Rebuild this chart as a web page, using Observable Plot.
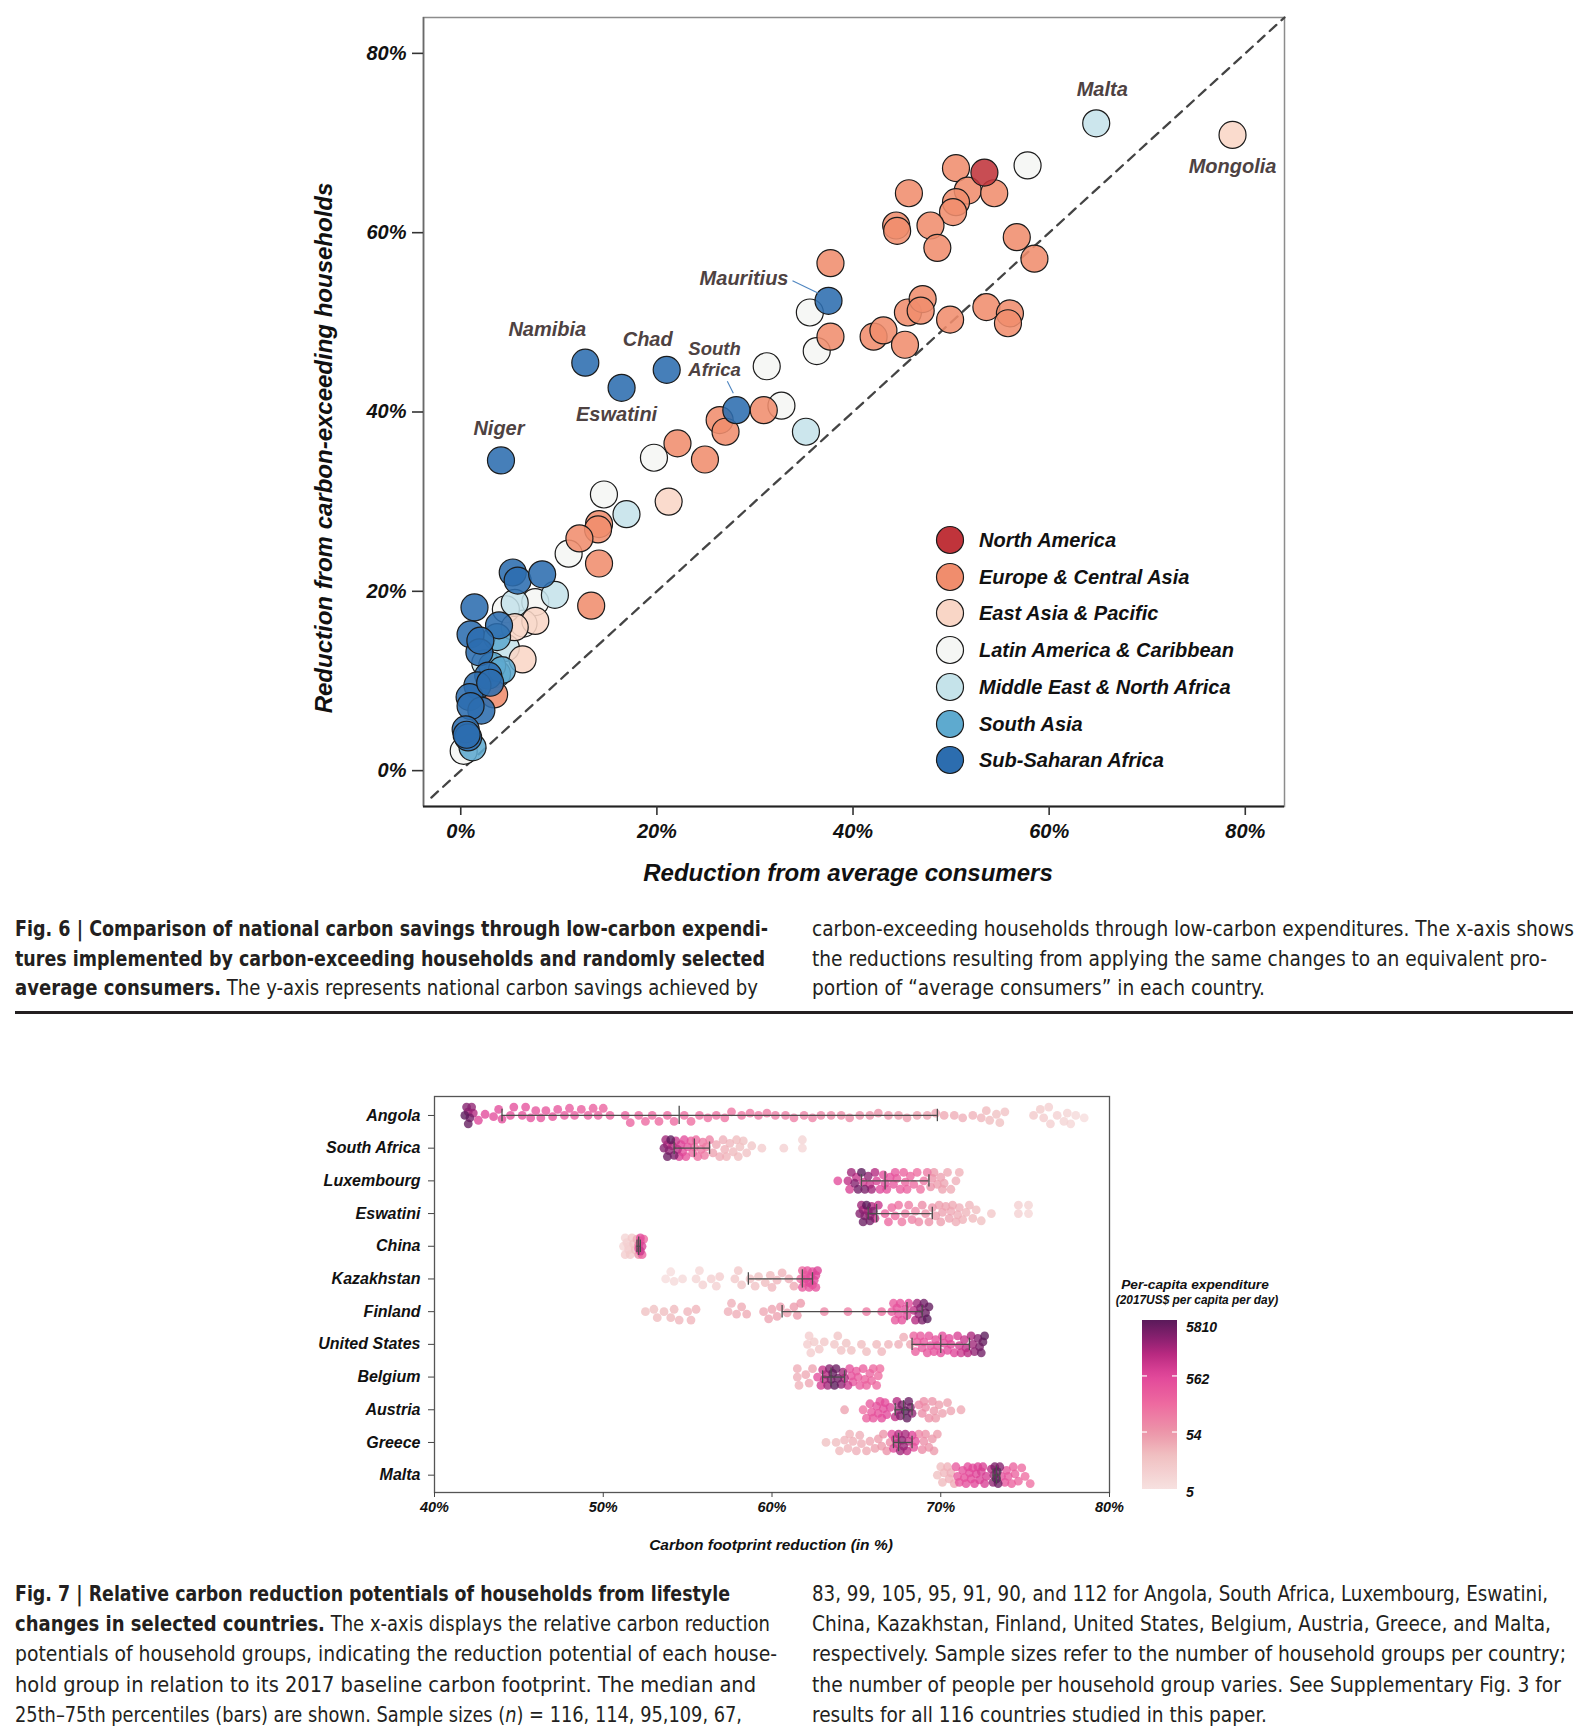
<!DOCTYPE html>
<html><head><meta charset="utf-8">
<script src="https://cdn.jsdelivr.net/npm/d3@7"></script>
<script src="https://cdn.jsdelivr.net/npm/@observablehq/plot@0.6"></script>
<style>
html,body{margin:0;padding:0;background:#fff;}
#page{position:relative;width:1587px;height:1732px;overflow:hidden;font-family:"Liberation Sans",Arial,Helvetica,sans-serif;}
#page > svg, #page > figure{position:absolute;left:0;}
.t{position:absolute;white-space:nowrap;font-weight:bold;font-style:italic;color:#111;transform:translate(-50%,-50%);}
.cap{position:absolute;white-space:nowrap;font-family:"Liberation Sans Narrow","DejaVu Sans Condensed","Liberation Sans",Arial,sans-serif;font-size:21.5px;color:#231f20;line-height:30px;height:30px;transform-origin:0 50%;}
.leg{position:absolute;white-space:nowrap;font-weight:bold;font-style:italic;font-size:20px;color:#111;}
</style></head>
<body><div id="page"></div>
<script>
// ---------------- Fig. 6 data (x: reduction from average consumers, y: from carbon-exceeding households) ----------------
const regionNames = ["North America","Europe & Central Asia","East Asia & Pacific","Latin America & Caribbean","Middle East & North Africa","South Asia","Sub-Saharan Africa"];
const regionColors = ["#c0343b","#f08d6d","#f9d6c6","#f5f6f4","#c5e3ea","#5eaacf","#2c6daf"];

const northAmerica = [[53.4,66.7]];
const europeCentralAsia = [[50.5,67.2],[45.7,64.4],[51.7,64.7],[54.4,64.4],[50.5,63.4],[50.2,62.3],[44.4,60.8],[44.5,60.2],[47.9,60.8],[48.6,58.3],[56.7,59.5],[58.5,57.1],[37.7,56.6],[37.7,48.4],[42.1,48.4],[43.1,49.1],[45.3,47.5],[45.6,51.1],[47.1,52.6],[46.9,51.3],[49.9,50.3],[53.6,51.7],[56.0,51.0],[55.8,49.9],[30.9,40.2],[26.4,39.1],[27.0,37.8],[22.1,36.5],[24.9,34.7],[14.1,27.5],[14.0,26.9],[12.1,25.9],[14.1,23.1],[13.3,18.4],[3.4,8.5]];
const eastAsiaPacific = [[78.7,70.9,"Mongolia"],[21.2,30.0],[7.6,16.7],[5.5,16.0],[6.3,12.4]];
const latinAmerica = [[57.8,67.5],[35.6,51.1],[36.3,46.8],[31.2,45.1],[32.7,40.7],[19.7,34.9],[14.6,30.8],[11.0,24.2],[7.6,18.8],[6.4,16.4],[4.6,18.0],[0.3,2.2]];
const middleEastNorthAfrica = [[64.8,72.2,"Malta"],[35.2,37.8],[16.9,28.6],[9.6,19.6],[5.5,18.7],[4.6,13.7],[2.5,12.0]];
const southAsia = [[3.7,14.9],[3.7,10.8],[1.2,2.6],[3.2,11.7],[4.2,11.2]];
const subSaharanAfrica = [[37.5,52.4,"Mauritius"],[12.7,45.5,"Namibia"],[16.4,42.7,"Eswatini"],[21.0,44.7,"Chad"],[28.1,40.2,"South Africa"],[4.1,34.6,"Niger"],[5.3,22.1],[5.8,21.2],[8.3,21.9],[1.4,18.2],[3.9,16.2],[1.0,15.2],[1.9,13.2],[2.8,10.6],[1.7,9.5],[0.9,8.2],[2.1,6.7],[1.0,7.2],[0.5,4.6],[0.75,3.7],[2.0,14.5],[3.0,9.8],[0.6,4.0]];
const ticks6 = [0,20,40,60,80];

// ---------------- Fig. 7 data: [carbon footprint reduction %, per-capita expenditure] ----------------
const countries = ["Angola","South Africa","Luxembourg","Eswatini","China","Kazakhstan","Finland","United States","Belgium","Austria","Greece","Malta"];
const angola = [[41.8,5810],[42.0,5000],[42.1,4000],[41.9,3000],[42.2,2500],[42.0,2000],[42.3,1500],[42.6,600],[43.0,550],[43.5,500],[43.8,500],[44.0,480],[44.5,450],[44.7,450],[45.2,420],[45.4,400],[45.7,400],[46.0,380],[46.3,380],[46.6,350],[47.0,350],[47.3,330],[47.7,320],[48.0,300],[48.3,300],[48.7,290],[49.1,280],[49.4,270],[49.7,260],[50.0,250],[50.4,240],[51.3,230],[51.6,220],[52.1,210],[52.5,200],[52.9,200],[53.3,190],[53.8,180],[54.2,180],[54.8,170],[55.2,160],[55.7,160],[56.2,150],[56.7,150],[57.2,140],[57.6,130],[58.2,130],[58.7,120],[59.2,120],[59.7,110],[60.2,110],[60.8,100],[61.3,100],[61.9,95],[62.4,90],[62.9,85],[63.5,80],[64.1,75],[64.6,70],[65.2,65],[65.8,60],[66.3,60],[66.9,55],[67.5,50],[68.0,48],[68.6,45],[69.2,42],[69.7,40],[70.2,35],[70.8,32],[71.3,30],[71.9,28],[72.4,26],[72.7,24],[72.9,22],[73.3,20],[73.5,20],[73.8,18],[75.5,14],[75.9,13],[76.1,12],[76.4,11],[76.5,11],[76.9,10],[77.3,9],[77.5,9],[77.7,8],[78.0,7],[78.5,6]];
const southAfrica = [[53.6,3000],[53.8,4500],[54.0,5810],[53.9,2500],[54.2,3500],[53.7,2000],[54.1,1500],[54.4,1200],[53.8,1000],[54.3,900],[54.5,700],[54.6,600],[54.8,500],[54.7,450],[55.0,400],[54.9,350],[55.2,250],[55.3,200],[55.4,160],[55.5,180],[55.6,150],[55.8,130],[55.9,120],[56.0,110],[56.1,100],[56.3,90],[56.5,40],[56.7,36],[56.9,32],[57.1,30],[57.2,28],[57.3,27],[57.5,25],[57.7,23],[57.9,22],[58.0,21],[58.1,20],[58.3,19],[58.5,18],[58.8,16],[59.4,12],[60.7,10],[61.8,8],[61.8,9]];
const luxembourg = [[63.9,500],[64.5,1200],[64.6,700],[64.7,2000],[64.9,3000],[65.0,1000],[65.1,4000],[65.3,5810],[65.4,800],[65.5,3500],[65.7,2500],[65.8,900],[65.9,2000],[66.1,1500],[66.2,700],[66.4,600],[66.6,500],[66.7,550],[66.8,450],[67.0,400],[67.2,350],[67.3,330],[67.4,300],[67.6,280],[67.8,250],[67.9,240],[68.0,230],[68.2,200],[68.4,180],[68.6,160],[68.8,140],[69.0,130],[69.2,120],[69.4,60],[69.5,55],[69.6,50],[69.8,45],[70.0,42],[70.1,40],[70.2,38],[70.4,35],[70.6,33],[70.9,30],[71.1,28]];
const eswatini = [[65.2,3000],[65.3,2000],[65.4,4500],[65.4,1500],[65.5,2500],[65.6,5810],[65.7,1800],[65.8,4000],[65.8,2200],[65.9,1500],[66.0,3000],[66.1,1200],[66.3,1000],[66.7,250],[66.9,200],[67.1,180],[67.3,160],[67.5,140],[67.7,120],[67.9,110],[68.1,100],[68.3,90],[68.5,80],[68.7,75],[68.9,70],[69.1,65],[69.3,60],[69.5,55],[69.7,50],[69.9,45],[70.0,44],[70.1,42],[70.3,40],[70.5,38],[70.6,36],[70.7,35],[70.9,32],[71.0,31],[71.1,30],[71.3,28],[71.5,26],[71.7,25],[71.9,23],[72.1,21],[72.4,20],[73.0,15],[74.6,10],[74.6,11],[75.2,8],[75.2,9]];
const china = [[51.2,8],[51.3,9],[51.3,12],[51.4,10],[51.5,11],[51.5,10],[51.6,13],[51.7,14],[51.8,16],[51.9,20],[52.0,30],[52.1,60],[52.1,150],[52.1,400],[52.2,300],[52.2,500],[52.2,900],[52.3,700],[52.3,250],[52.4,200]];
const kazakhstan = [[53.7,6],[54.0,6],[54.2,7],[54.7,7],[55.5,9],[55.7,8],[55.9,10],[56.4,11],[56.7,10],[56.9,12],[57.8,14],[58.0,15],[58.2,16],[58.7,18],[59.0,18],[59.2,20],[59.6,22],[59.9,24],[60.0,25],[60.3,26],[60.6,28],[61.0,32],[61.3,35],[61.7,150],[61.8,200],[61.8,300],[61.9,250],[62.0,300],[62.0,450],[62.1,350],[62.2,400],[62.2,550],[62.3,450],[62.4,500],[62.4,350],[62.5,550],[62.6,600],[62.6,400],[62.7,650]];
const finland = [[52.5,20],[53.0,20],[53.2,22],[53.6,22],[54.0,24],[54.2,24],[54.5,25],[55.0,26],[55.2,26],[55.5,27],[57.4,30],[57.6,30],[57.9,32],[58.2,33],[58.5,34],[59.5,36],[59.8,38],[60.0,40],[60.3,42],[60.5,44],[60.9,46],[61.3,48],[61.5,50],[61.7,52],[63.1,80],[64.5,100],[65.6,120],[66.5,150],[67.1,300],[67.2,320],[67.3,350],[67.4,380],[67.5,400],[67.6,420],[67.7,450],[67.9,500],[68.0,520],[68.1,550],[68.4,1200],[68.5,1500],[68.6,2000],[68.7,2500],[68.8,3000],[68.9,3500],[69.0,4000],[69.1,4500],[69.2,5810],[69.3,5000]];
const unitedStates = [[62.1,12],[62.2,12],[62.3,12],[62.5,13],[62.8,14],[63.1,15],[63.7,16],[63.9,17],[64.1,18],[64.4,19],[64.7,20],[65.3,22],[65.6,22],[66.2,24],[66.5,25],[66.9,26],[67.5,30],[67.8,32],[68.2,35],[68.4,250],[68.5,270],[68.6,290],[68.8,310],[68.9,330],[69.0,350],[69.2,370],[69.3,390],[69.4,400],[69.6,420],[69.7,440],[69.8,460],[70.0,480],[70.1,500],[70.2,520],[70.4,540],[70.5,560],[70.6,580],[70.8,600],[71.0,700],[71.1,800],[71.2,900],[71.4,1000],[71.5,1200],[71.6,1400],[71.8,1700],[71.9,2000],[72.0,2400],[72.2,2900],[72.3,3400],[72.4,4000],[72.5,4800],[72.6,5810]];
const belgium = [[61.5,30],[61.5,32],[61.6,28],[62.0,35],[62.2,38],[62.4,40],[62.7,500],[62.9,800],[63.0,1000],[63.1,1200],[63.2,1500],[63.3,2000],[63.4,3000],[63.5,3500],[63.6,5000],[63.7,5810],[63.8,4500],[63.9,4000],[64.1,2500],[64.2,2000],[64.3,1500],[64.5,900],[64.6,400],[64.7,380],[64.8,350],[65.0,300],[65.1,290],[65.2,280],[65.4,260],[65.5,250],[65.6,240],[65.8,220],[65.9,210],[66.0,200],[66.2,180],[66.3,170],[66.4,160]];
const austria = [[64.3,40],[65.4,150],[65.6,250],[65.8,300],[65.9,320],[66.0,350],[66.2,400],[66.3,420],[66.4,450],[66.5,480],[66.6,500],[66.7,520],[66.8,550],[67.0,600],[67.3,1200],[67.4,1500],[67.5,2000],[67.6,3000],[67.7,3500],[67.9,5810],[68.0,5000],[68.1,4500],[68.2,3000],[68.3,2500],[68.7,80],[68.9,70],[69.0,68],[69.1,65],[69.3,60],[69.5,55],[69.6,52],[69.7,50],[69.9,45],[70.1,42],[70.4,40],[70.6,38],[71.2,35]];
const greece = [[63.2,20],[63.8,22],[64.0,24],[64.3,25],[64.5,26],[64.6,27],[64.8,28],[65.0,30],[65.2,31],[65.3,32],[65.6,34],[65.8,36],[66.1,40],[66.3,45],[66.5,50],[66.6,55],[66.8,60],[67.0,70],[67.1,500],[67.2,600],[67.3,800],[67.4,1000],[67.5,1500],[67.6,2000],[67.7,2500],[67.8,2200],[67.9,1800],[68.0,1200],[68.1,1000],[68.3,600],[68.4,450],[68.5,400],[68.7,80],[68.9,70],[69.0,65],[69.1,60],[69.3,55],[69.5,50],[69.6,48],[69.8,45]];
const malta = [[69.8,20],[70.0,22],[70.1,24],[70.2,25],[70.4,28],[70.5,29],[70.6,30],[70.8,35],[70.9,300],[71.0,320],[71.1,350],[71.3,400],[71.4,420],[71.5,450],[71.6,480],[71.7,500],[71.8,520],[71.9,550],[72.0,580],[72.1,600],[72.2,620],[72.3,650],[72.4,680],[72.5,700],[72.6,720],[72.7,750],[73.0,1500],[73.1,2500],[73.15,2000],[73.2,3500],[73.3,5810],[73.35,5000],[73.4,4500],[73.5,3000],[73.6,400],[73.8,350],[73.9,320],[74.0,300],[74.2,250],[74.3,240],[74.4,220],[74.6,200],[74.8,180],[75.0,160],[75.3,150]];
const groups7 = [angola,southAfrica,luxembourg,eswatini,china,kazakhstan,finland,unitedStates,belgium,austria,greece,malta];
const q1 = [44.0,54.2,65.3,65.7,52.0,58.6,60.6,68.3,63.0,67.3,67.2,73.1];
const median = [54.5,55.4,66.7,66.2,52.1,61.8,68.0,70.0,63.5,67.8,67.5,73.3];
const q3 = [69.8,56.3,69.3,69.5,52.2,62.4,68.9,71.7,64.3,68.3,68.3,73.5];
const ticks7 = [40,50,60,70,80];
const expTicks = [5,54,562,5810];

// ---------------- layout ----------------
const page = document.getElementById("page");
const FONT = "'Liberation Sans', Arial, Helvetica, sans-serif";

// Fig 6
const W = 1587, H6 = 900;
const m6 = {l:423, r:303, t:17, b:94};
const xDom6 = [-3.8, 84], yDom6 = [-4, 84];
const pxX = (W - m6.l - m6.r)/(xDom6[1]-xDom6[0]);
const pxY = (H6 - m6.t - m6.b)/(yDom6[1]-yDom6[0]);
const groups6 = [
  ["Latin America & Caribbean", latinAmerica],
  ["Middle East & North Africa", middleEastNorthAfrica],
  ["East Asia & Pacific", eastAsiaPacific],
  ["South Asia", southAsia],
  ["Europe & Central Asia", europeCentralAsia],
  ["Sub-Saharan Africa", subSaharanAfrica],
  ["North America", northAmerica]
];
const pts6 = [];
for (const [region, arr] of groups6) for (const p of arr) pts6.push({x:p[0], y:p[1], region, name:p[2]||null});
const named = n => pts6.filter(d => d.name === n);
const diag = [-3, xDom6[1]];
const labStyle = {x:"x", y:"y", text:"name", fontSize:20, fontWeight:"bold", fontStyle:"italic", fill:"#4e4242", lineAnchor:"middle"};
const leader = (n, a, b) => Plot.link(named(n), {x1:d=>d.x + a[0]/pxX, y1:d=>d.y - a[1]/pxY, x2:d=>d.x + b[0]/pxX, y2:d=>d.y - b[1]/pxY, stroke:"#4f86c0", strokeWidth:1.1});

const fig6 = Plot.plot({
  width: W, height: H6,
  marginLeft: m6.l, marginRight: m6.r, marginTop: m6.t, marginBottom: m6.b,
  x: {domain: xDom6}, y: {domain: yDom6},
  color: {domain: regionNames, range: regionColors},
  style: {fontFamily: FONT, fontSize: "20px", fontWeight: "bold", fontStyle: "italic", color: "#111", background: "transparent"},
  marks: [
    Plot.frame({stroke:"#8c8c8c", strokeWidth:1.5}),
    Plot.ruleX([xDom6[0]], {stroke:"#6a6a6a", strokeWidth:1.6}),
    Plot.ruleY([yDom6[0]], {stroke:"#222", strokeWidth:2}),
    Plot.line(diag, {x:d=>d, y:d=>d, stroke:"#444", strokeWidth:2.3, strokeDasharray:"9,7"}),
    Plot.dot(pts6, {x:"x", y:"y", fill:"region", r:13.5, stroke:"#1b1b1b", strokeWidth:1.2, fillOpacity:0.88}),
    Plot.axisX({ticks:ticks6, tickFormat:d=>d+"%", tickSize:9, tickPadding:8, stroke:"#333", strokeWidth:1.6, label:null}),
    Plot.axisY({ticks:ticks6, tickFormat:d=>d+"%", tickSize:11, tickPadding:6, stroke:"#333", strokeWidth:1.6, label:null}),
    leader("Mauritius", [-36,-20], [-9,-7]),
    leader("South Africa", [-9,-29], [-3,-17]),
    Plot.text(named("Malta"), {...labStyle, dx:6, dy:-34}),
    Plot.text(named("Mongolia"), {...labStyle, dx:0, dy:32}),
    Plot.text(named("Mauritius"), {...labStyle, dx:-40, dy:-22, textAnchor:"end"}),
    Plot.text(named("Namibia"), {...labStyle, dx:-38, dy:-33}),
    Plot.text(named("Chad"), {...labStyle, dx:-19, dy:-30}),
    Plot.text(named("South Africa"), {...labStyle, text:()=>"South", fontSize:18.5, dx:-48, dy:-61.5, textAnchor:"start"}),
    Plot.text(named("South Africa"), {...labStyle, text:()=>"Africa", fontSize:18.5, dx:-48, dy:-40, textAnchor:"start"}),
    Plot.text(named("Eswatini"), {...labStyle, dx:-5, dy:27}),
    Plot.text(named("Niger"), {...labStyle, dx:-2, dy:-32})
  ]
});
fig6.style.position = "absolute"; fig6.style.top = "0px"; fig6.style.left = "0px";
page.appendChild(fig6);

// Fig 7
const T7 = 1060, H7 = 500;
const m7 = {l:434, r:478, t:36, b:68};
const xDom7 = [ticks7[0], ticks7[ticks7.length-1]];
const yDom7 = [-0.58, countries.length - 0.47];
const step7 = (H7 - m7.t - m7.b)/(yDom7[1]-yDom7[0]);
const px7 = (W - m7.l - m7.r)/(xDom7[1]-xDom7[0]);

function swarm(arr, maxOff, minD) {
  const order = arr.map((_, i) => i).sort((a, b) => arr[a][0] - arr[b][0]);
  const placed = [], off = new Array(arr.length);
  const base = [0];
  for (let k = 1; k * 1.2 <= maxOff; k++) base.push(k * 1.2, -k * 1.2);
  order.forEach((i, n) => {
    const x = arr[i][0] * px7;
    const cands = n % 2 ? base.map(c => -c) : base;
    let best = 0, bestScore = -Infinity;
    for (const c of cands) {
      let md = Infinity;
      for (const p of placed) {
        const dx = x - p.x;
        if (Math.abs(dx) < minD) { const d = Math.hypot(dx, c - p.y); if (d < md) md = d; }
      }
      if (md >= minD) { best = c; break; }
      if (md > bestScore) { bestScore = md; best = c; }
    }
    off[i] = best; placed.push({x, y: best});
  });
  return off;
}
const pts7 = [];
groups7.forEach((arr, row) => {
  const off = swarm(arr, 9, 8.6);
  arr.forEach((p, i) => pts7.push({row, pct:p[0], exp:p[1], off:off[i]}));
});
pts7.sort((a, b) => a.exp - b.exp);
const stats7 = countries.map((c, row) => ({row, q1:q1[row], med:median[row], q3:q3[row]}));

const rampStops = [0, 0.2, 0.337, 0.5, 0.67, 0.8, 0.9, 1];
const rampColors = ["#f7e1e0","#f0bfc1","#ec95a9","#ee6ba0","#e2479a","#b72980","#86206e","#5a1a5a"];
const ramp = d3.scaleLinear().domain(rampStops).range(rampColors).interpolate(d3.interpolateRgb).clamp(true);
const expDom = [expTicks[0], expTicks[expTicks.length-1]];

const barStyle = {stroke:"#4d4d4d", strokeWidth:1.3};
const fig7 = Plot.plot({
  width: W, height: H7,
  marginLeft: m7.l, marginRight: m7.r, marginTop: m7.t, marginBottom: m7.b,
  x: {domain: xDom7},
  y: {domain: yDom7, reverse: true},
  color: {type:"log", domain: expDom, interpolate: t => ramp(t)},
  style: {fontFamily: FONT, fontSize: "16px", fontWeight: "bold", fontStyle: "italic", color: "#111", background: "transparent"},
  marks: [
    Plot.frame({stroke:"#555", strokeWidth:1.3}),
    Plot.dot(pts7, {x:"pct", y:d => d.row + d.off/step7, fill:"exp", r:4.4, fillOpacity:0.78}),
    Plot.ruleY(stats7, {y:"row", x1:"q1", x2:"q3", ...barStyle}),
    Plot.ruleX(stats7, {x:"q1", y1:d=>d.row-0.19, y2:d=>d.row+0.19, ...barStyle}),
    Plot.ruleX(stats7, {x:"q3", y1:d=>d.row-0.19, y2:d=>d.row+0.19, ...barStyle}),
    Plot.ruleX(stats7, {x:"med", y1:d=>d.row-0.28, y2:d=>d.row+0.28, ...barStyle}),
    Plot.axisX({ticks:ticks7, tickFormat:d=>d+"%", tickSize:5, tickPadding:4, fontSize:14.5, stroke:"#444", label:null}),
    Plot.axisY({ticks:countries.map((c,i)=>i), tickFormat:i=>countries[i], tickSize:6, tickPadding:8, fontSize:16, stroke:"#444", label:null})
  ]
});
fig7.style.position = "absolute"; fig7.style.top = T7 + "px"; fig7.style.left = "0px";
page.appendChild(fig7);

// ---------------- text: titles, legends ----------------
function addText(txt, x, y, size, extra) {
  const d = document.createElement("div");
  d.className = "t"; d.textContent = txt;
  d.style.left = x + "px"; d.style.top = y + "px"; d.style.fontSize = size + "px";
  if (extra) Object.assign(d.style, extra);
  page.appendChild(d); return d;
}
addText("Reduction from carbon-exceeding households", 324, 448, 24, {transform:"translate(-50%,-50%) rotate(-90deg)"});
addText("Reduction from average consumers", 848, 873, 24);
addText("Carbon footprint reduction (in %)", 771, 1545, 15.5);
addText("Per-capita expenditure", 1195, 1284, 13.7);
addText("(2017US$ per capita per day)", 1197, 1300, 11.9);

// Fig 6 region legend
regionNames.forEach((name, i) => {
  const cy = 540 + i * 36.7;
  const s = document.createElementNS("http://www.w3.org/2000/svg", "svg");
  s.setAttribute("width", 32); s.setAttribute("height", 32);
  s.style.position = "absolute"; s.style.left = (950 - 16) + "px"; s.style.top = (cy - 16) + "px";
  const c = document.createElementNS("http://www.w3.org/2000/svg", "circle");
  c.setAttribute("cx", 16); c.setAttribute("cy", 16); c.setAttribute("r", 13.5);
  c.setAttribute("fill", regionColors[i]); c.setAttribute("stroke", "#1b1b1b"); c.setAttribute("stroke-width", 1.2);
  s.appendChild(c); page.appendChild(s);
  const t = document.createElement("div");
  t.className = "leg"; t.textContent = name;
  t.style.left = "979px"; t.style.top = (cy - 12) + "px"; t.style.lineHeight = "24px";
  page.appendChild(t);
});

// Fig 7 colour bar
(function(){
  const bx = 1142, bw = 35, top = 1320, bot = 1489;
  const yS = d3.scaleLog().domain(expDom).range([bot, top]);
  const s = d3.create("svg").attr("width", 140).attr("height", 200)
    .style("position","absolute").style("left", (bx - 5) + "px").style("top", (top - 15) + "px");
  const g = s.append("defs").append("linearGradient").attr("id","expgrad").attr("x1",0).attr("x2",0).attr("y1",1).attr("y2",0);
  d3.range(0, 1.0001, 0.05).forEach(t => g.append("stop").attr("offset", t).attr("stop-color", ramp(t)));
  s.append("rect").attr("x",5).attr("y",15).attr("width",bw).attr("height",bot-top).attr("fill","url(#expgrad)");
  expTicks.slice(1, -1).forEach(v => {
    const y = yS(v) - top + 15;
    s.append("line").attr("x1",5).attr("x2",10).attr("y1",y).attr("y2",y).attr("stroke","#fff").attr("stroke-width",1.2);
    s.append("line").attr("x1",5+bw-5).attr("x2",5+bw).attr("y1",y).attr("y2",y).attr("stroke","#fff").attr("stroke-width",1.2);
  });
  expTicks.forEach((v, i) => {
    s.append("text").attr("x", 5 + bw + 9).attr("y", yS(v) - top + 15 + (i === expTicks.length-1 ? 7 : 3))
      .attr("dy","0.35em").attr("font-family", FONT).attr("font-size", 14).attr("font-weight","bold")
      .attr("font-style","italic").attr("fill","#111").text(v);
  });
  page.appendChild(s.node());
})();

// ---------------- captions ----------------
const cap6Left = ["<b>Fig. 6 | Comparison of national carbon savings through low-carbon expendi-</b>",
  "<b>tures implemented by carbon-exceeding households and randomly selected</b>",
  "<b>average consumers.</b> The y-axis represents national carbon savings achieved by"];
const cap6Right = ["carbon-exceeding households through low-carbon expenditures. The x-axis shows",
  "the reductions resulting from applying the same changes to an equivalent pro-",
  "portion of “average consumers” in each country."];
const cap7Left = ["<b>Fig. 7 | Relative carbon reduction potentials of households from lifestyle</b>",
  "<b>changes in selected countries.</b> The x-axis displays the relative carbon reduction",
  "potentials of household groups, indicating the reduction potential of each house-",
  "hold group in relation to its 2017 baseline carbon footprint. The median and",
  "25th–75th percentiles (bars) are shown. Sample sizes (<i>n</i>) = 116, 114, 95,109, 67,"];
const cap7Right = ["83, 99, 105, 95, 91, 90, and 112 for Angola, South Africa, Luxembourg, Eswatini,",
  "China, Kazakhstan, Finland, United States, Belgium, Austria, Greece, and Malta,",
  "respectively. Sample sizes refer to the number of household groups per country;",
  "the number of people per household group varies. See Supplementary Fig. 3 for",
  "results for all 116 countries studied in this paper."];
const capEls = [];
function placeLines(lines, left, ends, y0, dy) {
  lines.forEach((html, i) => {
    const d = document.createElement("div");
    d.className = "cap"; d.innerHTML = html;
    d.style.left = left + "px"; d.style.top = (y0 + i * dy - 15) + "px";
    page.appendChild(d);
    capEls.push([d, ends[i] - left]);
  });
}
placeLines(cap6Left, 15, [768,765,758], 929, 29.7);
placeLines(cap6Right, 812, [1574,1547,1265], 929, 29.7);
placeLines(cap7Left, 15, [730,770,777,756,742], 1594, 30.2);
placeLines(cap7Right, 812, [1548,1551,1566,1561,1267], 1594, 30.2);
function fitCaps(){
  for (const [d, target] of capEls) {
    d.style.transform = "none";
    const w = d.getBoundingClientRect().width;
    if (w > 0) d.style.transform = "scaleX(" + (target / w) + ")";
  }
}
fitCaps();
if (document.fonts && document.fonts.ready) document.fonts.ready.then(fitCaps);

const rule = document.createElement("div");
Object.assign(rule.style, {position:"absolute", left:"15px", top:"1011px", width:"1558px", height:"2.6px", background:"#231f20"});
page.appendChild(rule);
</script>
</body></html>
